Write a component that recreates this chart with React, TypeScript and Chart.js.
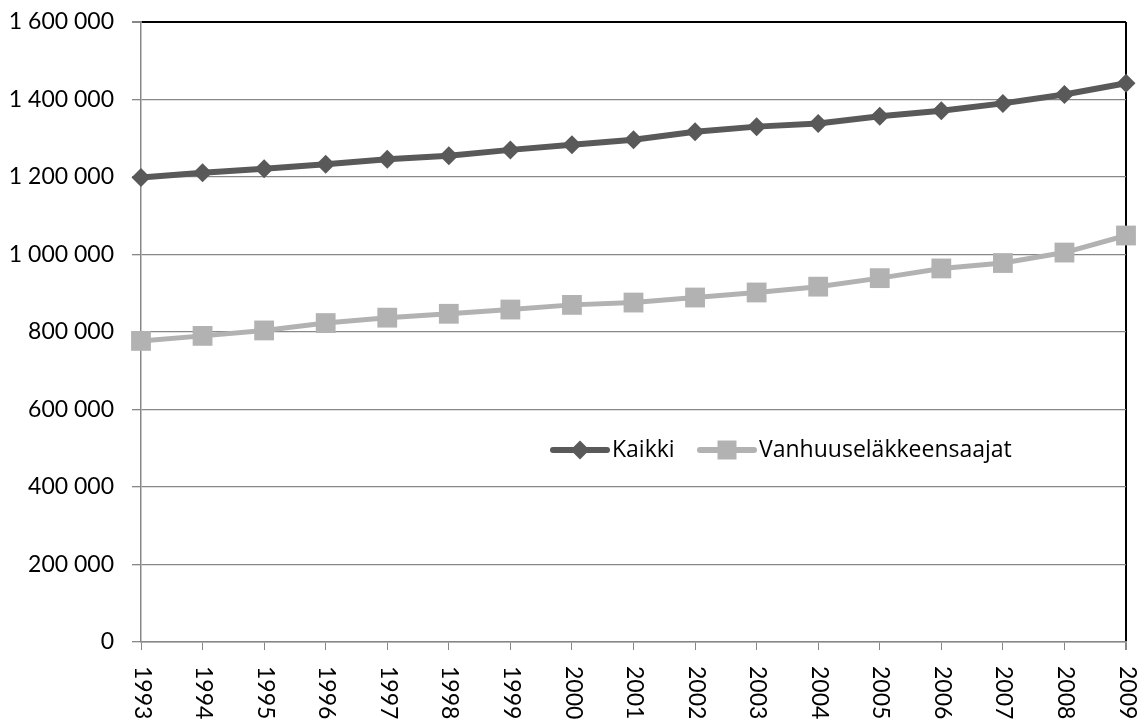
import React, { useEffect, useRef } from "react";
import { Chart, registerables } from "chart.js";

Chart.register(...registerables);

const years = ["1993","1994","1995","1996","1997","1998","1999","2000","2001","2002","2003","2004","2005","2006","2007","2008","2009"];
const kaikki = [1199000,1211000,1221000,1233000,1246000,1255000,1270000,1283000,1296000,1317000,1330000,1338000,1357000,1371000,1390000,1413000,1442000];
const vanhuus = [777000,790000,804000,823000,837000,847000,858000,870000,876000,889000,902000,917000,939000,964000,978000,1005000,1049000];
const yTicks = [0,200000,400000,600000,800000,1000000,1200000,1400000,1600000];
const seriesNames = ["Kaikki", "Vanhuuseläkkeensaajat"];

const DARK = "#595959";
const LIGHT = "#b2b2b2";
const GRID = "#878787";

const fmt = (v: number) => String(v).replace(/\B(?=(\d{3})+(?!\d))/g, " ");

const customPlugin = {
  id: "customDraw",
  afterDraw(chart: any) {
    const ctx = chart.ctx;
    const xs = chart.scales.x;
    const area = chart.chartArea;
    // rotated x labels (reading downward)
    ctx.save();
    ctx.fillStyle = "#000";
    ctx.font = "23px Lato";
    ctx.textAlign = "left";
    ctx.textBaseline = "middle";
    years.forEach((y, i) => {
      const x = xs.getPixelForTick(i);
      ctx.save();
      ctx.translate(x + 1, area.bottom + 24);
      ctx.rotate(Math.PI / 2);
      ctx.fillText(y, 0, 0);
      ctx.restore();
    });
    ctx.restore();

    // legend
    const ly = area.top + 428;
    const items = [
      { x0: area.left + 412, color: DARK, style: "diamond", text: seriesNames[0] },
      { x0: area.left + 559, color: LIGHT, style: "square", text: seriesNames[1] },
    ];
    ctx.save();
    items.forEach((it) => {
      ctx.strokeStyle = it.color;
      ctx.fillStyle = it.color;
      ctx.lineWidth = 6;
      ctx.lineCap = "round";
      ctx.beginPath();
      ctx.moveTo(it.x0, ly);
      ctx.lineTo(it.x0 + 54, ly);
      ctx.stroke();
      const cx = it.x0 + 27;
      ctx.beginPath();
      if (it.style === "diamond") {
        const r = 9.5;
        ctx.moveTo(cx - r, ly);
        ctx.lineTo(cx, ly - r);
        ctx.lineTo(cx + r, ly);
        ctx.lineTo(cx, ly + r);
        ctx.closePath();
      } else {
        ctx.rect(cx - 9.5, ly - 9.5, 19, 19);
      }
      ctx.fill();
      ctx.fillStyle = "#000";
      ctx.font = "23px 'Open Sans'";
      ctx.textAlign = "left";
      ctx.textBaseline = "middle";
      ctx.fillText(it.text, it.x0 + 59, ly);
    });
    ctx.restore();
  },
};

export default function App() {
  const ref = useRef<HTMLCanvasElement | null>(null);
  useEffect(() => {
    document.body.style.margin = "0";
    if (!ref.current) return;
    const chart = new Chart(ref.current, {
      type: "line",
      data: {
        labels: years,
        datasets: [
          {
            label: seriesNames[0],
            data: kaikki,
            borderColor: DARK,
            backgroundColor: DARK,
            borderWidth: 6,
            pointStyle: "rectRot",
            pointRadius: 9.5,
            pointBorderWidth: 0,
            pointBackgroundColor: DARK,
            tension: 0,
            clip: false as any,
          },
          {
            label: seriesNames[1],
            data: vanhuus,
            borderColor: LIGHT,
            backgroundColor: LIGHT,
            borderWidth: 5,
            pointStyle: "rect",
            pointRadius: 14,
            pointBorderWidth: 0,
            pointBackgroundColor: LIGHT,
            tension: 0,
            clip: false as any,
          },
        ],
      },
      options: {
        responsive: false,
        animation: false,
        layout: { padding: { top: 22, right: 13, left: 0, bottom: 0 } },
        plugins: { legend: { display: false }, tooltip: { enabled: false } },
        scales: {
          x: {
            offset: false,
            grid: {
              color: (c: any) => (c.index === years.length - 1 ? "#000" : "transparent"),
              tickColor: GRID,
              tickLength: 8,
              lineWidth: (c: any) => (c.index === years.length - 1 ? 2 : 1),
            },
            border: { color: GRID, width: 1.5 },
            ticks: { color: "transparent", font: { family: "Lato", size: 23 }, minRotation: 90, maxRotation: 90, autoSkip: false },
            afterFit: (s: any) => { s.height = 78; s.paddingLeft = 0; s.paddingRight = 0; },
          },
          y: {
            min: 0,
            max: 1600000,
            afterBuildTicks: (s: any) => { s.ticks = yTicks.map((v) => ({ value: v })); },
            grid: {
              color: (c: any) => (c.tick && c.tick.value === 1600000 ? "#000" : GRID),
              lineWidth: (c: any) => (c.tick && c.tick.value === 1600000 ? 2 : 1.3),
              tickColor: GRID,
              tickLength: 9,
            },
            border: { color: GRID, width: 1.5 },
            ticks: {
              color: "#000",
              font: { family: "Lato", size: 23 },
              padding: 18,
              callback: (v: any) => fmt(Number(v)),
            },
            afterFit: (s: any) => { s.width = 141; s.paddingTop = 0; s.paddingBottom = 0; },
          },
        },
      },
      plugins: [customPlugin],
    });
    return () => chart.destroy();
  }, []);
  return <canvas ref={ref} width={1140} height={720} style={{ display: "block" }} />;
}
